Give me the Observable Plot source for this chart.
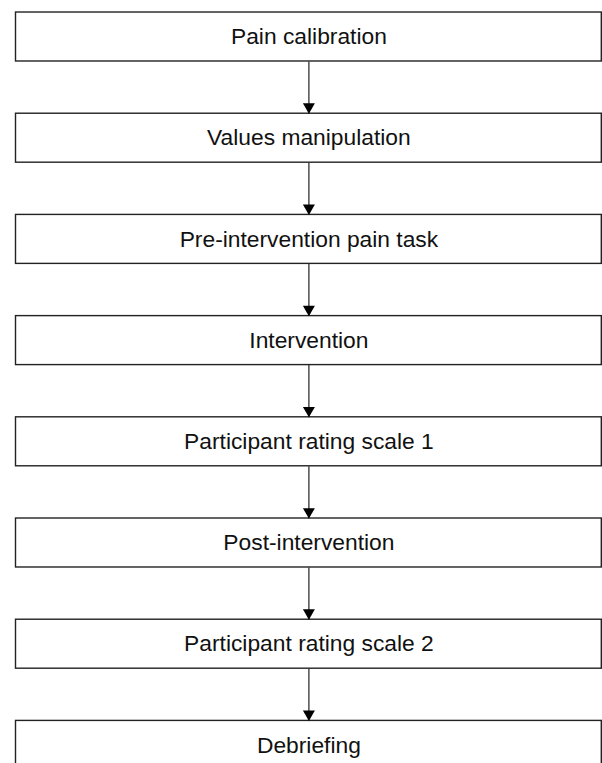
<!DOCTYPE html>
<html>
<head>
<meta charset="utf-8">
<script src="https://cdn.jsdelivr.net/npm/d3@7"></script>
<script src="https://cdn.jsdelivr.net/npm/@observablehq/plot@0.6"></script>
<style>
  html, body { margin: 0; padding: 0; background: white; overflow: hidden; }
</style>
</head>
<body>
<div id="chart"></div>
<script>
const steps = [
  "Pain calibration",
  "Values manipulation",
  "Pre-intervention pain task",
  "Intervention",
  "Participant rating scale 1",
  "Post-intervention",
  "Participant rating scale 2",
  "Debriefing"
];
const halfBox = 0.242;

const boxes = steps.map((label, i) => ({label, i}));
const links = steps.slice(1).map((label, k) => ({from: k, to: k + 1}));

const chart = Plot.plot({
  width: 602,
  height: 763,
  marginTop: 36.5,
  marginBottom: 18.1,
  marginLeft: 15.5,
  marginRight: 0.7,
  x: {domain: [0, 1], axis: null},
  y: {domain: [0, 7], axis: null, reverse: true},
  marks: [
    Plot.rect(boxes, {
      x1: 0, x2: 1,
      y1: d => d.i - halfBox, y2: d => d.i + halfBox,
      fill: "white", stroke: "#222", strokeWidth: 1.4
    }),
    Plot.link(links, {
      x1: 0.5, x2: 0.5,
      y1: d => d.from + halfBox, y2: d => d.to - halfBox,
      stroke: "#222", strokeWidth: 1.2
    }),
    Plot.dot(links, {
      x: 0.5, y: d => d.to - halfBox,
      symbol: "triangle", r: 4.45, rotate: 180, dy: -6.9,
      fill: "black", stroke: "none"
    }),
    Plot.text(boxes, {
      x: 0.5, y: "i", text: "label",
      fontSize: 22.8, fontFamily: "Liberation Sans, Arial, sans-serif",
      fill: "#111"
    })
  ]
});
document.getElementById("chart").appendChild(chart);
</script>
</body>
</html>
